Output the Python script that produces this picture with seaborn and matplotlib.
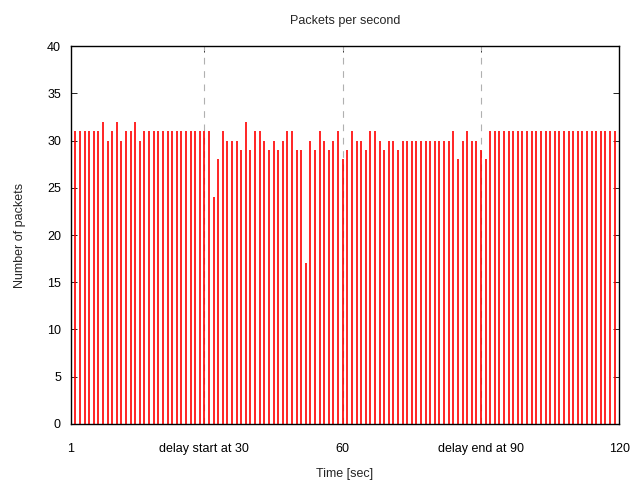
import numpy as np
import matplotlib
matplotlib.use("Agg")
import matplotlib.pyplot as plt
import seaborn as sns

# Data: packets per second, seconds 2..119
seconds = list(range(2, 120))
packets = (
    [31] * 6
    + [32, 30, 31, 32, 30, 31, 31, 32, 30]
    + [31] * 15
    + [24, 28, 31, 30, 30, 30, 29, 32, 29, 31, 31, 30, 29, 30, 29, 30, 31, 31,
       29, 29, 17, 30, 29, 31, 30, 29, 30, 31, 28, 29, 31, 30, 30, 29, 31, 31,
       30, 29, 30, 30, 29, 30]
    + [30] * 10
    + [31, 28, 30, 31, 30, 30, 29, 28]
    + [31] * 28
)
tick_pos = [1, 30, 60, 90, 120]
tick_labels = ["1", "delay start at 30", "60", "delay end at 90", "120"]
grid_x = [30, 60, 90]
y_ticks = list(range(0, 41, 5))

sns.set_theme(style="white")
plt.rcParams["font.family"] = ["Liberation Sans", "DejaVu Sans"]

fig = plt.figure(figsize=(6.34, 4.87), dpi=100)
ax = fig.add_axes([0.1115, 0.1294, 0.8653, 0.7761])

for gx in grid_x:
    ax.axvline(gx, color="#b0b0b0", lw=0.8, ls=(0, (6, 6)), zorder=1)

ax.vlines(seconds, 0, packets, color="#ff0000", lw=1.2, zorder=2)

ax.set_xlim(1, 120)
ax.set_ylim(0, 40)
ax.set_xticks(tick_pos)
ax.set_xticklabels(tick_labels)
ax.set_yticks(y_ticks)
ax.tick_params(axis="both", direction="in", length=4, width=0.6, colors="black",
               labelsize=9, pad=14, top=True, right=True, bottom=True, left=True)
ax.tick_params(axis="y", pad=7)
for s in ax.spines.values():
    s.set_color("black")
    s.set_linewidth(1.0)
    s.set_visible(True)

ax.set_title("Packets per second", fontsize=9, pad=16)
ax.set_xlabel("Time [sec]", fontsize=9, labelpad=9)
ax.set_ylabel("Number of packets", fontsize=9, labelpad=15)

fig.savefig("out.png", dpi=100, facecolor="white")
